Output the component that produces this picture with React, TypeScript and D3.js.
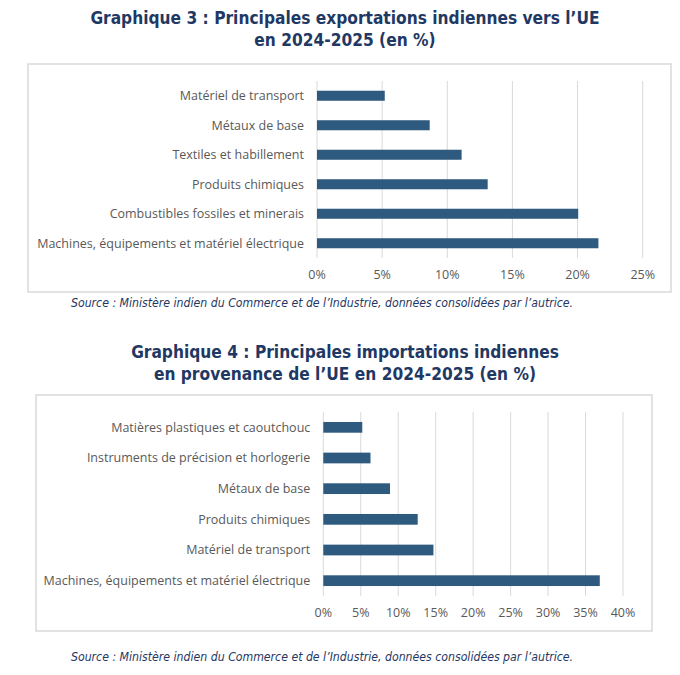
import React from "react";
import * as d3 from "d3";

// Graphique 3 : exportations (en %)
const exportCategories = [
  "Matériel de transport",
  "Métaux de base",
  "Textiles et habillement",
  "Produits chimiques",
  "Combustibles fossiles et minerais",
  "Machines, équipements et matériel électrique",
];
const exportValues = [5.2, 8.65, 11.1, 13.1, 20.05, 21.6];
const exportTicks = [0, 5, 10, 15, 20, 25];

// Graphique 4 : importations (en %)
const importCategories = [
  "Matières plastiques et caoutchouc",
  "Instruments de précision et horlogerie",
  "Métaux de base",
  "Produits chimiques",
  "Matériel de transport",
  "Machines, équipements et matériel électrique",
];
const importValues = [5.2, 6.3, 8.9, 12.6, 14.7, 36.9];
const importTicks = [0, 5, 10, 15, 20, 25, 30, 35, 40];

const titles3 = ["Graphique 3 : Principales exportations indiennes vers l’UE", "en 2024-2025 (en %)"];
const titles4 = ["Graphique 4 : Principales importations indiennes", "en provenance de l’UE en 2024-2025 (en %)"];
const sourceText = "Source : Ministère indien du Commerce et de l’Industrie, données consolidées par l’autrice.";

const NAVY = "#1f3864";
const BAR = "#2e5a7f";
const GRID = "#d9d9d9";
const LABEL = "#595959";
const TITLE_FONT = "'DejaVu Sans Condensed', 'DejaVu Sans', sans-serif";
const LABEL_FONT = "'Open Sans', 'Noto Sans', sans-serif";

interface BarChartProps {
  categories: string[];
  values: number[];
  ticks: number[];
  box: { x: number; y: number; w: number; h: number };
  plot: { x0: number; x1: number; y0: number; y1: number };
  tickY: number;
  padding: number;
}

const BarChart: React.FC<BarChartProps> = ({ categories, values, ticks, box, plot, tickY, padding }) => {
  const x = d3
    .scaleLinear()
    .domain([0, ticks[ticks.length - 1]])
    .range([plot.x0, plot.x1]);
  const y = d3
    .scaleBand<string>()
    .domain(categories)
    .range([plot.y0, plot.y1])
    .paddingInner(padding)
    .paddingOuter(padding / 2);

  return (
    <g>
      <rect x={box.x} y={box.y} width={box.w} height={box.h} fill="#fff" stroke={GRID} strokeWidth={1.5} />
      {ticks.map((t) => (
        <g key={t}>
          <line x1={x(t)} x2={x(t)} y1={plot.y0} y2={plot.y1} stroke={GRID} strokeWidth={1} />
          <text
            x={x(t)}
            y={tickY}
            textAnchor="middle"
            fontFamily={LABEL_FONT}
            fontSize={12.5}
            fill={LABEL}
          >
            {t}%
          </text>
        </g>
      ))}
      {categories.map((c, i) => (
        <g key={c}>
          <rect x={x(0)} y={y(c)!} width={x(values[i]) - x(0)} height={y.bandwidth()} fill={BAR} />
          <text
            x={plot.x0 - 13}
            y={y(c)! + y.bandwidth() / 2}
            dy="0.35em"
            textAnchor="end"
            fontFamily={LABEL_FONT}
            fontSize={12.5}
            fill={LABEL}
          >
            {c}
          </text>
        </g>
      ))}
    </g>
  );
};

const Title: React.FC<{ lines: string[]; y: number; gap: number }> = ({ lines, y, gap }) => (
  <g>
    {lines.map((l, i) => (
      <text
        key={i}
        x={345}
        y={y + i * gap}
        textAnchor="middle"
        fontFamily={TITLE_FONT}
        fontWeight="bold"
        fontSize={17.2}
        fill={NAVY}
      >
        {l}
      </text>
    ))}
  </g>
);

const Source: React.FC<{ y: number }> = ({ y }) => (
  <text x={71} y={y} fontFamily={TITLE_FONT} fontStyle="italic" fontSize={12.2} fill={NAVY}>
    {sourceText}
  </text>
);

export default function App() {
  return (
    <div style={{ position: "absolute", left: 0, top: 0 }}>
      <svg width={680} height={675} style={{ display: "block", background: "#fff" }}>
        <Title lines={titles3} y={24} gap={22} />
        <BarChart
          categories={exportCategories}
          values={exportValues}
          ticks={exportTicks}
          box={{ x: 28, y: 64, w: 643, h: 228 }}
          plot={{ x0: 317, x1: 642.7, y0: 81, y1: 258 }}
          tickY={279}
          padding={0.66}
        />
        <Source y={306.5} />
        <Title lines={titles4} y={358} gap={22} />
        <BarChart
          categories={importCategories}
          values={importValues}
          ticks={importTicks}
          box={{ x: 36, y: 395, w: 616, h: 236 }}
          plot={{ x0: 323.3, x1: 623, y0: 412, y1: 596 }}
          tickY={617}
          padding={0.65}
        />
        <Source y={661} />
      </svg>
    </div>
  );
}
